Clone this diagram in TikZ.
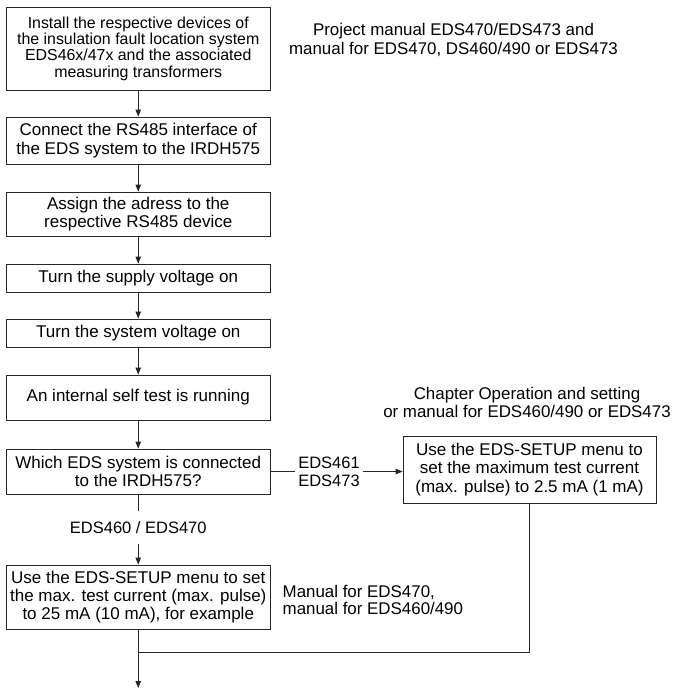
\documentclass[tikz,border=0pt]{standalone}
\usepackage{fontspec}
\setmainfont{Liberation Sans}
\usetikzlibrary{arrows.meta}
\begin{document}
\begin{tikzpicture}[x=1pt,y=1pt,
  box/.style={draw=black!85, line width=0.8pt, align=center, inner sep=0pt, minimum width=263.5pt, font=\fontsize{17}{18.3}\selectfont},
  note/.style={align=center, inner sep=0pt, font=\fontsize{16.9}{18.3}\selectfont},
  conn/.style={draw=black!85, line width=0.8pt},
  arr/.style={conn, -{Triangle[length=7pt,width=5.5pt]}}]
\useasboundingbox (0,0) rectangle (673,-689);
\node[box, minimum height=83pt, font=\fontsize{15.9}{16.4}\selectfont] (b1) at (138.25,-48.5)
  {Install the respective devices of\\the insulation fault location system\\EDS46x/47x and the associated\\measuring transformers};
\node[box, minimum height=47pt] (b2) at (138.25,-140.5)
  {Connect the RS485 interface of\\the EDS system to the IRDH575};
\node[box, minimum height=44pt] (b3) at (138.25,-214)
  {Assign the adress to the\\respective RS485 device};
\node[box, minimum height=28pt] (b4) at (138.25,-278)
  {Turn the supply voltage on};
\node[box, minimum height=28pt] (b5) at (138.25,-333)
  {Turn the system voltage on};
\node[box, minimum height=45pt] (b6) at (138.25,-397.5)
  {An internal self test is running};
\node[box, minimum height=45pt] (dec) at (138.25,-471.5)
  {Which EDS system is connected\\to the IRDH575?};
\node[box, minimum height=64pt] (b8) at (138.25,-597)
  {Use the EDS-SETUP menu to set\\the max. test current (max. pulse)\\to 25 mA (10 mA), for example};
\node[box, minimum width=253pt, minimum height=67pt] (rb) at (529.5,-469.5)
  {Use the EDS-SETUP menu to\\set the maximum test current\\(max. pulse) to 2.5 mA (1 mA)};

\node[note] (n1) at (453.5,-40) {Project manual EDS470/EDS473 and\\manual for EDS470, DS460/490 or EDS473};
\node[note, font=\fontsize{16.9}{18.8}\selectfont] (n2) at (527,-402.5) {Chapter Operation and setting\\or manual for EDS460/490 or EDS473};
\node[note, align=left, anchor=west, font=\fontsize{16.9}{17}\selectfont] (n3) at (282.5,-600) {Manual for EDS470,\\manual for EDS460/490};

\node[align=left, inner xsep=3pt, inner ysep=0pt, font=\fontsize{16.5}{18.5}\selectfont] (l1) at (329,-472) {EDS461\\EDS473};
\node[inner sep=0pt, minimum height=33pt, font=\fontsize{16.5}{18.5}\selectfont] (l2) at (138.25,-527.5) {EDS460 / EDS470};

\coordinate (m) at (138.25,-652);
\coordinate (e) at (138.25,-688);

\draw[arr] (b1) -- (b2);
\draw[arr] (b2) -- (b3);
\draw[arr] (b3) -- (b4);
\draw[arr] (b4) -- (b5);
\draw[arr] (b5) -- (b6);
\draw[arr] (b6) -- (dec);
\draw[conn] (dec.east) -- (l1.west |- dec.east);
\draw[arr] (l1.east |- dec.east) -- (rb.west |- dec.east);
\draw[conn] (dec.south) -- (l2.north);
\draw[arr] (l2.south) -- (b8.north);
\draw[conn] (b8.south) -- (m);
\draw[conn] (rb.south) -- (rb.south |- m) -- (m);
\draw[arr] (m) -- (e);
\end{tikzpicture}
\end{document}
